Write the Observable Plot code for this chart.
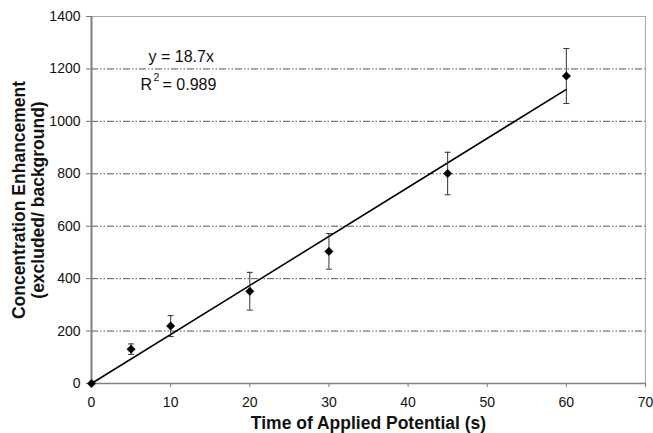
<!DOCTYPE html>
<html>
<head>
<meta charset="utf-8">
<script src="https://cdn.jsdelivr.net/npm/d3@7"></script>
<script src="https://cdn.jsdelivr.net/npm/@observablehq/plot@0.6"></script>
<style>
  html, body { margin: 0; padding: 0; background: #fff; }
  #chart { width: 653px; height: 433px; }
</style>
</head>
<body>
<div id="chart"></div>
<script>
// Data
const times = [0, 5, 10, 20, 30, 45, 60];                 // Time of Applied Potential (s)
const enhancement = [0, 131, 219, 352, 504, 801, 1173];   // Concentration Enhancement
const errors = [0, 20, 40, 72, 68, 81, 105];              // error bar half-widths
const slope = 18.7;                                       // fitted line y = 18.7x
const rSquared = 0.989;
const xTicks = [0, 10, 20, 30, 40, 50, 60, 70];
const yTicks = [0, 200, 400, 600, 800, 1000, 1200, 1400];
const gridValues = [200, 400, 600, 800, 1000, 1200];

const points = times.map((t, i) => ({t, v: enhancement[i], e: errors[i]}));
const bars = points.filter(d => d.e > 0);
const fit = [0, d3.max(times)].map(t => ({t, v: slope * t}));

const capSymbol = {draw(ctx) { ctx.moveTo(-3, 0); ctx.lineTo(3, 0); }};
const font = "Liberation Sans, Arial, sans-serif";

const chart = Plot.plot({
  width: 653,
  height: 433,
  marginLeft: 91,
  marginRight: 8,
  marginTop: 16,
  marginBottom: 50,
  style: {fontFamily: font, fontSize: "14px", color: "#111", background: "#fff"},
  x: {domain: [0, 70], ticks: xTicks, label: null},
  y: {domain: [0, 1400], ticks: yTicks, label: null},
  marks: [
    Plot.ruleY(gridValues, {stroke: "#555", strokeWidth: 1, strokeDasharray: "7,2,1.5,2,1.5,2"}),
    Plot.frame({stroke: "#aaa", strokeWidth: 1}),
    Plot.axisX({ticks: xTicks, tickFormat: d => String(d), tickSize: 4, tickPadding: 10, stroke: "#777", fontSize: 14, label: null}),
    Plot.axisY({ticks: yTicks, tickFormat: d => String(d), tickSize: 5, tickPadding: 6, stroke: "#777", fontSize: 14, label: null}),
    Plot.ruleX([0], {stroke: "#808080", strokeWidth: 2}),
    Plot.ruleY([0], {stroke: "#808080", strokeWidth: 1.5}),
    Plot.line(fit, {x: "t", y: "v", stroke: "#000", strokeWidth: 1.6}),
    Plot.ruleX(bars, {x: "t", y1: d => d.v - d.e, y2: d => d.v + d.e, stroke: "#333", strokeWidth: 1}),
    Plot.dot(bars, {x: "t", y: d => d.v + d.e, symbol: capSymbol, stroke: "#333", strokeWidth: 1, r: 3}),
    Plot.dot(bars, {x: "t", y: d => d.v - d.e, symbol: capSymbol, stroke: "#333", strokeWidth: 1, r: 3}),
    Plot.dot(points, {x: "t", y: "v", symbol: "diamond2", fill: "#000", stroke: "#000", strokeWidth: 0.5, r: 3.8}),
    Plot.text([`y = ${slope}x`], {frameAnchor: "top-left", dx: 57, dy: 40, textAnchor: "start", lineAnchor: "middle", fontSize: 16, fill: "#111"}),
    Plot.text(["R"], {frameAnchor: "top-left", dx: 49, dy: 68, textAnchor: "start", lineAnchor: "middle", fontSize: 16, fill: "#111"}),
    Plot.text(["2"], {frameAnchor: "top-left", dx: 62, dy: 61, textAnchor: "start", lineAnchor: "middle", fontSize: 10.5, fill: "#111"}),
    Plot.text([`= ${rSquared}`], {frameAnchor: "top-left", dx: 71, dy: 68, textAnchor: "start", lineAnchor: "middle", fontSize: 16, fill: "#111"}),
    Plot.text(["Concentration Enhancement\n(excluded/ background)"], {frameAnchor: "left", rotate: -90, dx: -63, lineAnchor: "middle", textAnchor: "middle", lineHeight: 1.1, fontSize: 17.5, fontWeight: "bold", fill: "#111"}),
    Plot.text(["Time of Applied Potential (s)"], {frameAnchor: "bottom", dy: 40, lineAnchor: "middle", textAnchor: "middle", fontSize: 17.5, fontWeight: "bold", fill: "#111"})
  ]
});
document.getElementById("chart").appendChild(chart);
</script>
</body>
</html>
